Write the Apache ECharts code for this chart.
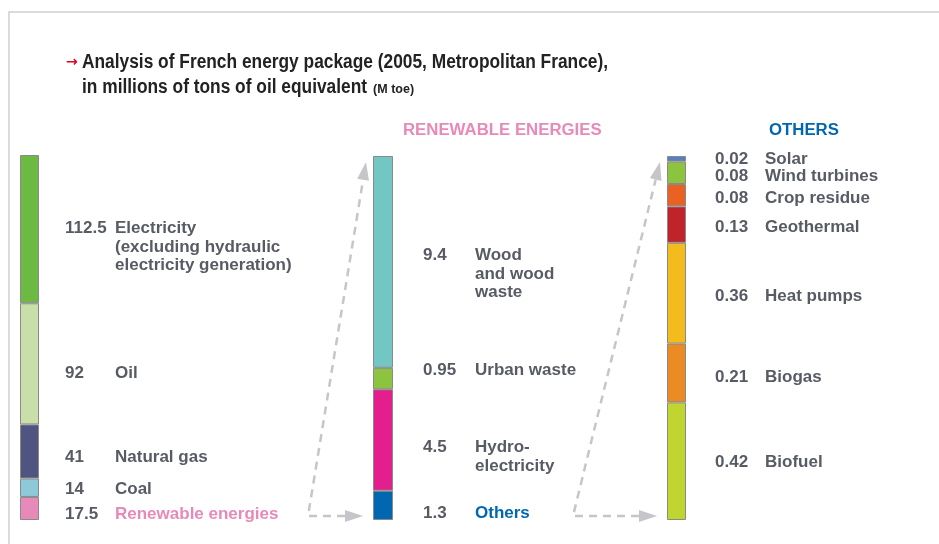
<!DOCTYPE html>
<html>
<head>
<meta charset="utf-8">
<script src="https://cdn.jsdelivr.net/npm/echarts@6/dist/echarts.min.js"></script>
<style>
  html, body { margin: 0; padding: 0; background: #fff; }
  #chart { width: 939px; height: 544px; }
</style>
</head>
<body>
<div id="chart"></div>
<script>
// energy package 2005, M toe
const mixNames = ['Electricity\n(excluding hydraulic\nelectricity generation)', 'Oil', 'Natural gas', 'Coal', 'Renewable energies'];
const mixValues = [112.5, 92, 41, 14, 17.5];

const renewNames = ['Wood\nand wood\nwaste', 'Urban waste', 'Hydro-\nelectricity', 'Others'];
const renewValues = [9.4, 0.95, 4.5, 1.3];

const otherNames = ['Solar', 'Wind turbines', 'Crop residue', 'Geothermal', 'Heat pumps', 'Biogas', 'Biofuel'];
const otherValues = [0.02, 0.08, 0.08, 0.13, 0.36, 0.21, 0.42];

const headers = ['RENEWABLE ENERGIES', 'OTHERS'];
const titleLines = ['Analysis of French energy package (2005, Metropolitan France),', 'in millions of tons of oil equivalent', '(M toe)'];

var textGray = '#575b64';
var labelFont = "'Liberation Sans', Arial, sans-serif";

var columns = [
  {
    names: mixNames, values: mixValues,
    colors: ['#6cb944', '#c9dfa9', '#4f5480', '#8ec9d9', '#e88ab9'],
    nameColors: { 'Renewable energies': '#e88ab9' },
    grid: { left: 20, top: 155, width: 19, height: 365 },
    labelX: 45, valueWidth: 50,
    nudge: [18, 9, 6, 2, 6]
  },
  {
    names: renewNames, values: renewValues,
    colors: ['#72c6c4', '#8cc43f', '#e21f8c', '#0067b0'],
    nameColors: { 'Others': '#0067b0' },
    grid: { left: 373, top: 156, width: 20, height: 364 },
    labelX: 50, valueWidth: 52,
    nudge: [12, -8, 17, 8]
  },
  {
    names: otherNames, values: otherValues,
    colors: ['#5a7ec0', '#8cc43f', '#ea6223', '#c1232a', '#f3bb1b', '#ea8c23', '#c1d530'],
    nameColors: {},
    grid: { left: 667, top: 156, width: 19, height: 364 },
    labelX: 48, valueWidth: 50,
    nudge: [1, 4, 3, 3, 3, 4, 1]
  }
];

var grids = [], xAxes = [], yAxes = [], series = [];

columns.forEach(function (col, c) {
  grids.push(col.grid);
  xAxes.push({ type: 'category', gridIndex: c, data: ['all'], show: false });
  var total = col.values.reduce(function (a, b) { return a + b; }, 0);
  yAxes.push({ type: 'value', gridIndex: c, min: 0, max: total, inverse: true, show: false });

  col.names.forEach(function (name, i) {
    var nameColor = col.nameColors[name] || textGray;
    series.push({
      type: 'bar',
      name: name,
      stack: 'col' + c,
      xAxisIndex: c,
      yAxisIndex: c,
      barWidth: '100%',
      data: [col.values[i]],
      silent: true,
      itemStyle: { color: col.colors[i], borderColor: '#8a8a8a', borderWidth: 1 },
      label: {
        show: true,
        position: [col.labelX, '50%'],
        offset: [0, col.nudge[i]],
        align: 'left',
        verticalAlign: 'middle',
        formatter: function (p) {
          return name.split('\n').map(function (ln, k) {
            return '{v|' + (k === 0 ? String(p.value) : '\u00a0') + '}{n|' + ln + '}';
          }).join('\n');
        },
        rich: {
          v: { width: col.valueWidth, fontSize: 17, fontWeight: 'bold', fontFamily: labelFont, color: textGray, lineHeight: 18.5 },
          n: { fontSize: 17, fontWeight: 'bold', fontFamily: labelFont, color: nameColor, lineHeight: 18.5 }
        }
      }
    });
  });
});

// dashed connector: corner -> right arrow, corner -> diagonal arrow
function connector(corner, rightTip, upTip) {
  var stroke = { stroke: '#c6c6ca', lineWidth: 2.5, lineDash: [8, 6], fill: null };
  var head = 18, half = 6;
  var dx = upTip[0] - corner[0], dy = upTip[1] - corner[1];
  var len = Math.sqrt(dx * dx + dy * dy);
  var ux = dx / len, uy = dy / len;
  var bx = upTip[0] - head * ux, by = upTip[1] - head * uy;
  var px = -uy, py = ux;
  return [
    { type: 'polyline', silent: true, shape: { points: [[rightTip[0] - head, rightTip[1]], corner, [bx, by]] }, style: stroke },
    { type: 'polygon', silent: true, shape: { points: [[rightTip[0] - head, rightTip[1] - half], rightTip, [rightTip[0] - head, rightTip[1] + half]] }, style: { fill: '#c6c6ca' } },
    { type: 'polygon', silent: true, shape: { points: [[bx + half * px, by + half * py], upTip, [bx - half * px, by - half * py]] }, style: { fill: '#c6c6ca' } }
  ];
}

// title is set in a condensed face in the original: squeeze regular bold horizontally
var titleFont = 'bold 19.5px "Liberation Sans"';
var ctx = document.createElement('canvas').getContext('2d');
ctx.font = titleFont;
var squeeze = 526 / ctx.measureText(titleLines[0]).width;
var line2Width = ctx.measureText(titleLines[1]).width * squeeze;
ctx.font = 'bold 12px "Liberation Sans"';
var smallSqueeze = 41 / ctx.measureText(titleLines[2]).width;

function titleText(x, y, str, size, sx) {
  return {
    type: 'text', silent: true, x: x, y: y, scaleX: sx,
    style: { text: str, fontSize: size, fontWeight: 'bold', fontFamily: 'Liberation Sans', fill: '#222', verticalAlign: 'middle' }
  };
}

var graphics = [
  { type: 'rect', silent: true, shape: { x: 9, y: 12, width: 1000, height: 600 }, style: { fill: null, stroke: '#d0d0d0', lineWidth: 1.5 } },
  { type: 'text', silent: true, x: 66, y: 62, style: { text: '→', fontSize: 14, fontWeight: 'bold', fontFamily: 'DejaVu Sans', fill: '#e2001a', verticalAlign: 'middle' } },
  titleText(82, 63, titleLines[0], 19.5, squeeze),
  titleText(82, 88, titleLines[1], 19.5, squeeze),
  titleText(82 + line2Width + 6, 90, titleLines[2], 12, smallSqueeze)
].concat(connector([308, 516], [363, 516], [366, 162]))
 .concat(connector([573, 516], [657, 516], [660, 162]));

var option = {
  animation: false,
  backgroundColor: '#fff',
  title: [
    { text: headers[0], left: 403, top: 122, padding: 0, textStyle: { color: '#e88ab9', fontSize: 16.8, fontWeight: 'bold', fontFamily: labelFont } },
    { text: headers[1], left: 769, top: 122, padding: 0, textStyle: { color: '#0067b0', fontSize: 16.8, fontWeight: 'bold', fontFamily: labelFont } }
  ],
  grid: grids,
  xAxis: xAxes,
  yAxis: yAxes,
  series: series,
  graphic: graphics
};

var chart = echarts.init(document.getElementById('chart'));
chart.setOption(option);
</script>
</body>
</html>
